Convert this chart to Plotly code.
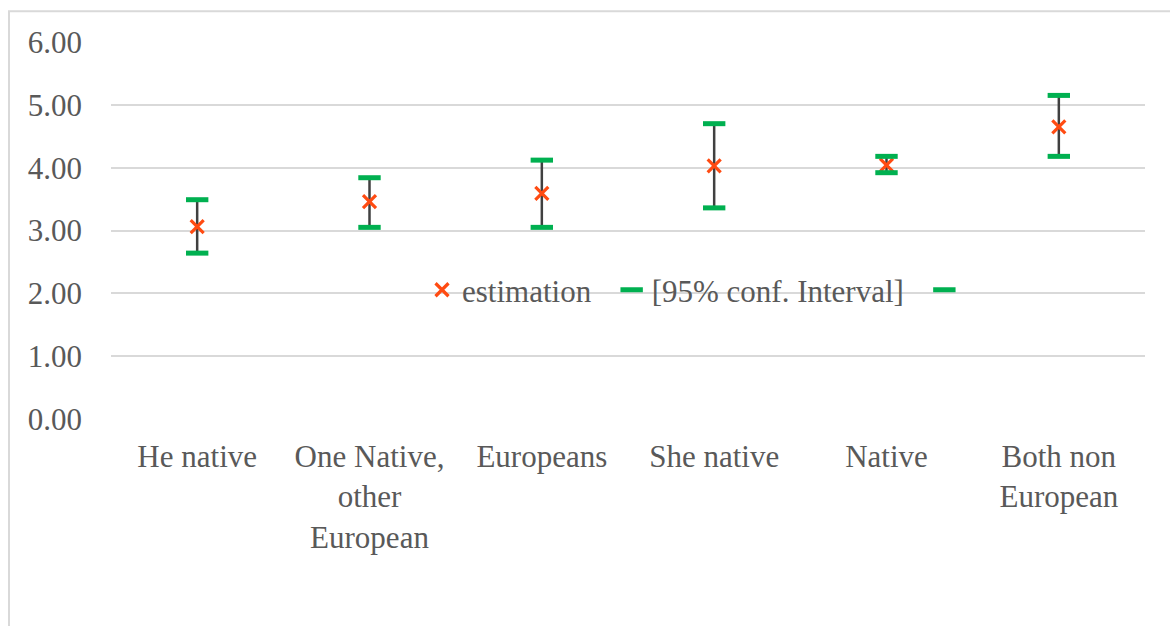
import plotly.graph_objects as go

# Group labels (line breaks as shown under the axis)
categories = [
    "He native",
    "One Native,<br>other<br>European",
    "Europeans",
    "She native",
    "Native",
    "Both non<br>European",
]

# Point estimates and 95% confidence bounds
estimation = [3.06, 3.46, 3.59, 4.03, 4.04, 4.65]
ci_lower = [2.64, 3.05, 3.05, 3.36, 3.92, 4.18]
ci_upper = [3.49, 3.84, 4.12, 4.70, 4.18, 5.15]

y_ticks = [0, 1, 2, 3, 4, 5, 6]

FONT = "Liberation Serif"
FONT_SIZE = 31
TEXT_GREY = "#595959"
GRID_GREY = "#D9D9D9"
EST_COLOR = "#FF4B12"
CI_COLOR = "#00B050"
PAD = "\u00a0\u00a0"  # extra room after a legend label

fig = go.Figure()

# Estimate markers; the high-low line spans the confidence interval
fig.add_trace(go.Scatter(
    x=categories,
    y=estimation,
    mode="markers",
    name="estimation" + PAD,
    marker=dict(symbol="x-thin", size=13, color=EST_COLOR,
                line=dict(color=EST_COLOR, width=3.2)),
    error_y=dict(
        type="data",
        symmetric=False,
        array=[u - e for u, e in zip(ci_upper, estimation)],
        arrayminus=[e - l for e, l in zip(estimation, ci_lower)],
        color="#404040",
        thickness=2.5,
        width=0,
    ),
))

# Lower and upper interval bounds as short green dashes
fig.add_trace(go.Scatter(
    x=categories,
    y=ci_lower,
    mode="markers",
    name="[95% conf. Interval]" + PAD,
    marker=dict(symbol="line-ew", size=16, color=CI_COLOR,
                line=dict(color=CI_COLOR, width=5)),
))
fig.add_trace(go.Scatter(
    x=categories,
    y=ci_upper,
    mode="markers",
    name=" ",
    marker=dict(symbol="line-ew", size=16, color=CI_COLOR,
                line=dict(color=CI_COLOR, width=5)),
))

plot_left, plot_right = 111, 1145
plot_top, plot_bottom = 41.7, 419
pw = plot_right - plot_left
ph = plot_bottom - plot_top

tick_font = dict(family=FONT, size=FONT_SIZE, color=TEXT_GREY)

fig.update_layout(
    width=1170,
    height=626,
    margin=dict(l=plot_left, r=1170 - plot_right, t=plot_top, b=626 - plot_bottom, pad=0),
    paper_bgcolor="white",
    plot_bgcolor="white",
    font=tick_font,
    showlegend=True,
    legend=dict(
        orientation="h",
        x=(700 - plot_left) / pw,
        xanchor="center",
        y=(plot_bottom - 290) / ph,
        yanchor="middle",
        bgcolor="rgba(0,0,0,0)",
        font=tick_font,
        itemwidth=30,
    ),
    xaxis=dict(
        type="category",
        range=[-0.5, len(categories) - 0.5],
        showgrid=False,
        showline=False,
        zeroline=False,
        ticks="",
        tickangle=0,
        automargin=False,
        tickfont=tick_font,
        ticklabelstandoff=16,
    ),
    yaxis=dict(
        range=[0, 6],
        tickvals=y_ticks,
        tickformat=".2f",
        showgrid=True,
        gridcolor=GRID_GREY,
        gridwidth=2,
        zeroline=False,
        showline=False,
        ticks="",
        automargin=False,
        tickfont=tick_font,
        ticklabelstandoff=28,
    ),
    shapes=[
        dict(
            type="rect",
            xref="paper", yref="paper",
            x0=(9 - plot_left) / pw,
            x1=(1180 - plot_left) / pw,
            y0=(plot_bottom - 640) / ph,
            y1=(plot_bottom - 11) / ph,
            line=dict(color=GRID_GREY, width=2),
            fillcolor="rgba(0,0,0,0)",
            layer="below",
        )
    ],
)

fig.write_html("out.html")
